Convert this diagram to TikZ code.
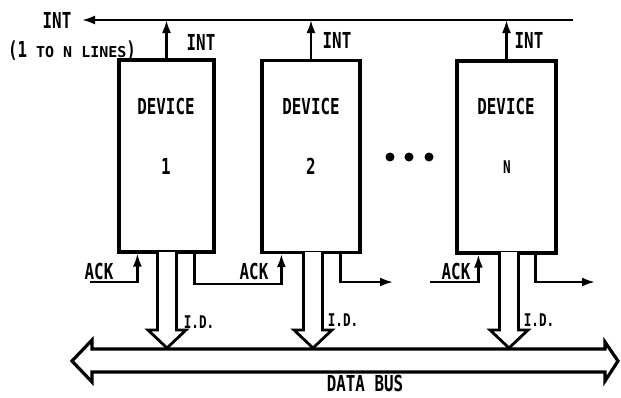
\documentclass[tikz,border=0pt]{standalone}
\usepackage{fontspec}
\newfontfamily\lgfont[FakeStretch=0.72]{DejaVu Sans Mono Bold}
\newfontfamily\lgwide{DejaVu Sans Mono Bold}
\usetikzlibrary{arrows.meta}
\begin{document}
\begin{tikzpicture}[x=1pt,y=-1pt,
  devbox/.style={draw,line width=3.2pt,minimum width=95pt,minimum height=192pt,inner sep=0pt},
  lbl/.style={font=\lgfont\fontsize{22}{24}\selectfont,inner sep=0pt},
  sm/.style={font=\lgfont\fontsize{17.5}{19}\selectfont,inner sep=0pt},
  wire/.style={line width=2.2pt},
  arr/.style={wire,-{Latex[length=13pt,width=9pt]}},
  fat/.style={line width=2.8pt,fill=white,line join=miter}]
\useasboundingbox (0,0) rectangle (621,397);

% bus
\draw[fat,line width=3.2pt] (72,361) -- (92,340) -- (92,349) -- (605,349) -- (605,342)
  -- (618,361) -- (605,381) -- (605,372) -- (92,372) -- (92,382) -- cycle;
\node[lbl,anchor=base] (bus) at (365,391) {DATA BUS};

% devices
\node[devbox] (d1) at (166.5,156) {};
\node[devbox,minimum width=98pt] (d2) at (311,156.5) {};
\node[devbox,minimum width=99pt] (dn) at (506.5,157) {};
\node[lbl] (t1) at (166,106) {DEVICE};
\node[lbl] (t2) at (311,106) {DEVICE};
\node[lbl] (tn) at (506,106) {DEVICE};
\node[lbl] (n1) at (166,166) {1};
\node[lbl] (n2) at (311,166) {2};
\node[sm] (nn) at (507,167) {N};

% dots
\fill (390,157) circle (4.5pt);
\fill (409,157) circle (4.5pt);
\fill (429,157) circle (4.5pt);

% INT line
\coordinate (intR) at (573,20);
\coordinate (intL) at (82,20);
\node[lbl] (intlbl) at (57,20) {INT};
\node[inner sep=0pt] (lines) at (72,51) {\lgfont\fontsize{22}{24}\selectfont (1\lgwide\fontsize{15}{17}\selectfont\ TO N LINES\lgfont\fontsize{22}{24}\selectfont)};
\draw[arr] (intR) -- (intL);
\draw[arr] (d1.north) -- (d1.north |- intL);
\draw[arr] (d2.north) -- (d2.north |- intL);
\draw[arr] (dn.north) -- (dn.north |- intL);
\node[lbl] (i1) at (201,42) {INT};
\node[lbl] (i2) at (337,40) {INT};
\node[lbl] (in) at (529,40) {INT};

% ACK chain
\coordinate (a1) at (90,282);
\coordinate (o2) at (393,282);
\coordinate (an) at (430,282);
\coordinate (on) at (595,282);
\draw[arr] (a1) -| ([xshift=20pt]d1.south west);
\draw[arr] ([xshift=77pt]d1.south west) -- ++(0,30) -| ([xshift=21pt]d2.south west);
\draw[arr] ([xshift=80pt]d2.south west) |- (o2);
\draw[arr] (an) -| ([xshift=23pt]dn.south west);
\draw[arr] ([xshift=80pt]dn.south west) |- (on);
\node[lbl] (k1) at (99,271) {ACK};
\node[lbl] (k2) at (254,271) {ACK};
\node[lbl] (kn) at (456,271) {ACK};

% I.D. arrows
\foreach \c in {167,313,509}{
  \draw[fat] (\c-9.5,252) -- (\c-9.5,330) -- (\c-19,330) -- (\c,348) -- (\c+19,330) -- (\c+9.5,330) -- (\c+9.5,252);
}
\node[sm] (id1) at (199,322) {I.D.};
\node[sm] (id2) at (343,320) {I.D.};
\node[sm] (idn) at (539,320) {I.D.};
\end{tikzpicture}
\end{document}
